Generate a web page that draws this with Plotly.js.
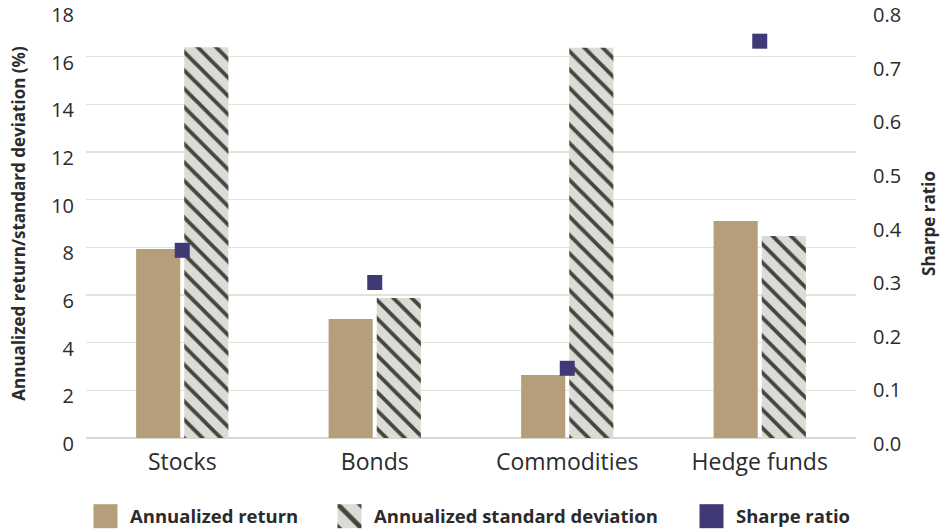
<!DOCTYPE html>
<html>
<head>
<meta charset="utf-8">
<script src="https://cdn.plot.ly/plotly-3.0.1.min.js"></script>
<style>html,body{margin:0;padding:0;background:#fff;}#chart{width:940px;height:531px;}</style>
</head>
<body>
<div id="chart"></div>
<script>
const categories = ["Stocks", "Bonds", "Commodities", "Hedge funds"];
const annualizedReturn = [7.93, 4.99, 2.64, 9.1];
const annualizedStdDev = [16.39, 5.87, 16.37, 8.48];
const sharpeRatio = [0.35, 0.29, 0.13, 0.74];
const leftTicks = [0, 2, 4, 6, 8, 10, 12, 14, 16, 18];
const rightTicks = [0, 0.1, 0.2, 0.3, 0.4, 0.5, 0.6, 0.7, 0.8];

const FONT = "'Open Sans', 'Noto Sans', sans-serif";
const TXT = "#2b2b2b";

const traces = [
  {
    type: "bar", name: "Annualized return", x: categories, y: annualizedReturn,
    marker: {color: "#b59f7b", line: {width: 0}}, yaxis: "y"
  },
  {
    type: "bar", name: "Annualized standard deviation", x: categories, y: annualizedStdDev,
    marker: {color: "#dcdcd6", line: {width: 0},
      pattern: {shape: "\\", bgcolor: "#dcdcd6", fgcolor: "#46453f", size: 13, solidity: 0.3}},
    yaxis: "y"
  },
  {
    type: "scatter", mode: "markers", name: "Sharpe ratio", x: categories, y: sharpeRatio,
    marker: {symbol: "square", size: 15, color: "#3f3a75"}, yaxis: "y2"
  }
];

const layout = {
  width: 940, height: 531,
  margin: {l: 86, r: 84, t: 9, b: 93},
  paper_bgcolor: "#fff", plot_bgcolor: "#fff",
  font: {family: FONT, size: 20, color: TXT},
  barmode: "group", bargap: 0.5, bargroupgap: 0.083,
  showlegend: true,
  legend: {orientation: "h", x: 0.515, xanchor: "center", xref: "container",
    y: 0.027, yanchor: "middle", yref: "container", bgcolor: "rgba(0,0,0,0)",
    font: {family: FONT, size: 18.5, weight: "bold", color: TXT}, itemwidth: 39},
  xaxis: {tickfont: {size: 23}, showgrid: false, showline: false, ticks: "", zeroline: false,
    automargin: false, ticklabelstandoff: 8},
  yaxis: {
    range: [0, 18], tickvals: leftTicks, ticktext: leftTicks.map(String),
    gridcolor: "#e2e2dc", gridwidth: 1.5, zeroline: true, zerolinecolor: "#d8d8d2", zerolinewidth: 2,
    tickfont: {size: 20}, ticks: "", ticklabelstandoff: 11, ticklabelshift: 6,
    ticklabeloverflow: "allow", automargin: false,
    title: {text: "Annualized return/standard deviation (%)", font: {size: 17, weight: "bold"}, standoff: 21}
  },
  yaxis2: {
    range: [0, 0.8], overlaying: "y", side: "right",
    tickvals: rightTicks, ticktext: rightTicks.map(v => v.toFixed(1)),
    showgrid: false, zeroline: false, tickfont: {size: 20}, ticks: "", ticklabelstandoff: 16,
    ticklabelshift: 6, ticklabeloverflow: "allow", automargin: false,
    title: {text: "Sharpe ratio", font: {size: 17, weight: "bold"}, standoff: 24}
  }
};

// where each legend label starts in the reference (px from the left)
const legendTextStarts = [130, 374, 736];

Plotly.newPlot("chart", traces, layout, {displayModeBar: false, staticPlot: true}).then(gd => {
  // let legend entries extend past the legend box once they are spread out
  gd.querySelectorAll(".legend [clip-path]").forEach(el => el.removeAttribute("clip-path"));
  // enlarge legend swatches to match the reference's bigger key squares
  gd.querySelectorAll(".legend .legendpoints path").forEach(p => {
    const isPoint = p.classList.contains("scatterpts") || p.closest(".scatterpts");
    const t = p.getAttribute("transform") || "";
    p.setAttribute("transform", t + (isPoint ? " scale(1.6)" : " scale(2)"));
  });
  // spread legend entries like the reference
  const host = gd.getBoundingClientRect();
  gd.querySelectorAll(".legend g.traces").forEach((g, i) => {
    const txt = g.querySelector("text.legendtext");
    if (!txt || legendTextStarts[i] === undefined) return;
    const dx = legendTextStarts[i] - (txt.getBoundingClientRect().left - host.left);
    const m = /translate\(\s*([-\d.e]+)[ ,]+([-\d.e]+)\s*\)/.exec(g.getAttribute("transform") || "");
    if (!m) return;
    g.setAttribute("transform", `translate(${parseFloat(m[1]) + dx},${parseFloat(m[2])})`);
  });
});
</script>
</body>
</html>
